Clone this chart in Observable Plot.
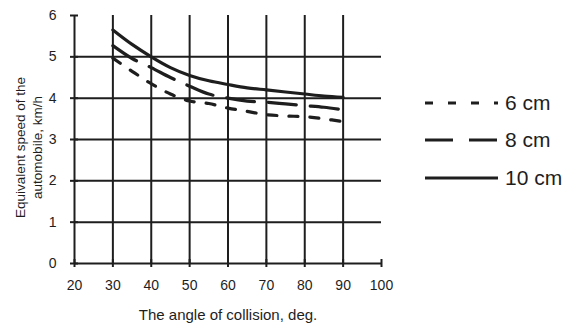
<!DOCTYPE html>
<html>
<head>
<meta charset="utf-8">
<script src="https://cdn.jsdelivr.net/npm/d3@7"></script>
<script src="https://cdn.jsdelivr.net/npm/@observablehq/plot@0.6"></script>
<style>
  html, body { margin: 0; padding: 0; background: #fff; }
  #wrap { position: relative; width: 566px; height: 324px; font-family: "Liberation Sans", Arial, sans-serif; }
  #legend { position: absolute; left: 0; top: 0; }
</style>
</head>
<body>
<div id="wrap"></div>
<script>
const angles = [30, 35, 40, 45, 50, 55, 60, 65, 70, 75, 80, 85, 90];
const speed6 = [4.97, 4.65, 4.35, 4.1, 3.93, 3.87, 3.76, 3.68, 3.6, 3.57, 3.55, 3.5, 3.43];
const speed8 = [5.27, 4.96, 4.74, 4.5, 4.29, 4.1, 4.0, 3.93, 3.9, 3.86, 3.82, 3.78, 3.72];
const speed10 = [5.65, 5.3, 5.0, 4.74, 4.55, 4.42, 4.33, 4.25, 4.2, 4.15, 4.1, 4.05, 4.02];
const seriesNames = ["6 cm", "8 cm", "10 cm"];
const seriesDash = ["9,12", "28,14", null];
const xTicks = [20, 30, 40, 50, 60, 70, 80, 90, 100];
const yTicks = [0, 1, 2, 3, 4, 5, 6];
const xGrid = [30, 40, 50, 60, 70, 80, 90];
const yGrid = [1, 2, 3, 4, 5];
const xTitle = "The angle of collision, deg.";
const yTitle = "Equivalent speed of the\nautomobile, km/h";

const allSeries = [speed6, speed8, speed10];
const rows = seriesNames.map((name, k) => angles.map((a, i) => ({angle: a, speed: allSeries[k][i], series: name})));

const ink = "#1e1e1e";

const chart = Plot.plot({
  width: 566,
  height: 324,
  marginLeft: 74,
  marginRight: 185,
  marginTop: 15,
  marginBottom: 61,
  style: {fontFamily: "'Liberation Sans', Arial, sans-serif", fontSize: "14px", color: ink, background: "#fff"},
  x: {domain: [20, 100]},
  y: {domain: [0, 6]},
  marks: [
    Plot.ruleX(xGrid, {y1: 0, y2: 6, stroke: ink, strokeWidth: 2, strokeOpacity: 1}),
    Plot.ruleY(yGrid, {x1: 20, x2: 100, stroke: ink, strokeWidth: 2, strokeOpacity: 1}),
    Plot.ruleX([20], {y1: 0, y2: 6, stroke: ink, strokeWidth: 2}),
    Plot.ruleY([0], {x1: 20, x2: 100, stroke: ink, strokeWidth: 2}),
    Plot.ruleX(xTicks, {y1: 0, y2: 0, insetTop: -4, insetBottom: -4, stroke: ink, strokeWidth: 2}),
    Plot.ruleY(yTicks, {x1: 20, x2: 20, insetLeft: -4, insetRight: -4, stroke: ink, strokeWidth: 2}),
    Plot.axisX({ticks: xTicks, tickSize: 0, tickPadding: 17, label: null, fontSize: 14, tickFormat: d => String(d)}),
    Plot.axisY({ticks: yTicks, tickSize: 0, tickPadding: 18, label: null, fontSize: 14, tickFormat: d => String(d)}),
    ...rows.map((data, k) => Plot.line(data, {
      x: "angle", y: "speed", stroke: ink, strokeWidth: 3.2,
      strokeDasharray: seriesDash[k] || undefined, curve: "catmull-rom"
    })),
    Plot.text([xTitle], {frameAnchor: "bottom", dy: 52, fontSize: 15, textAnchor: "middle", lineAnchor: "middle", fill: ink}),
    Plot.text([yTitle], {frameAnchor: "left", dx: -46, dy: 8, rotate: -90, fontSize: 13.5, lineHeight: 1.25, textAnchor: "middle", lineAnchor: "middle", fill: ink})
  ]
});

const wrap = document.getElementById("wrap");
wrap.appendChild(chart);

// Legend (SVG overlay in the right margin)
const ns = "http://www.w3.org/2000/svg";
const leg = document.createElementNS(ns, "svg");
leg.setAttribute("id", "legend");
leg.setAttribute("width", 566);
leg.setAttribute("height", 324);
leg.style.pointerEvents = "none";
const legY = [103, 140, 178];
seriesNames.forEach((name, k) => {
  const ln = document.createElementNS(ns, "line");
  ln.setAttribute("x1", 425); ln.setAttribute("x2", 498);
  ln.setAttribute("y1", legY[k]); ln.setAttribute("y2", legY[k]);
  ln.setAttribute("stroke", ink); ln.setAttribute("stroke-width", 3.2);
  if (seriesDash[k]) ln.setAttribute("stroke-dasharray", k === 0 ? "8,15" : "28,16");
  leg.appendChild(ln);
  const t = document.createElementNS(ns, "text");
  t.setAttribute("x", 505); t.setAttribute("y", legY[k]);
  t.setAttribute("dy", "0.35em");
  t.setAttribute("font-size", 21);
  t.setAttribute("font-family", "'Liberation Sans', Arial, sans-serif");
  t.setAttribute("fill", ink);
  t.textContent = name;
  leg.appendChild(t);
});
wrap.appendChild(leg);
</script>
</body>
</html>
